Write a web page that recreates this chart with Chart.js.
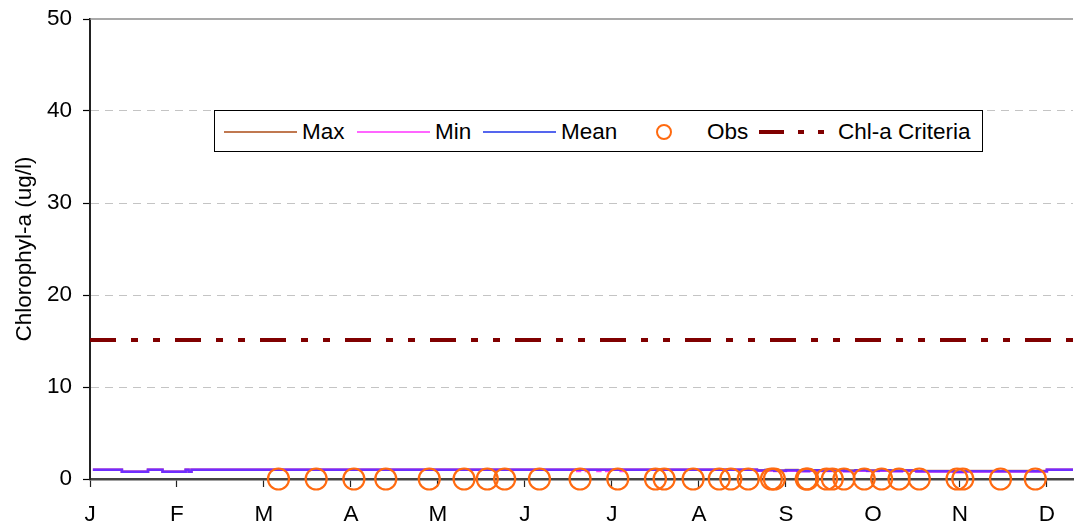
<!DOCTYPE html>
<html><head><meta charset="utf-8">
<script src="https://cdn.jsdelivr.net/npm/chart.js@4.4.1/dist/chart.umd.min.js"></script>
<style>
html,body{margin:0;padding:0;background:#fff;}
#wrap{position:relative;width:1077px;height:527px;font-family:"Liberation Sans",Arial,sans-serif;}
#legend{position:absolute;left:214px;top:110px;width:767px;height:40px;border:1.5px solid #000;background:#fff;}
.sw{position:absolute;top:19.5px;height:2px;width:73px;}
.tx{position:absolute;top:21px;transform:translateY(-50%);font-size:22.5px;line-height:1;color:#000;white-space:nowrap;}
.ob{position:absolute;left:441px;top:13px;width:12px;height:12px;border:2.5px solid #ff6a10;border-radius:50%;}
svg.cr{position:absolute;left:544px;top:14px;}
</style></head>
<body><div id="wrap"><canvas id="c" width="1077" height="527"></canvas>
<div id="legend">
  <div class="sw" style="left:9px;background:#c07850"></div><span class="tx" style="left:87px">Max</span>
  <div class="sw" style="left:142px;background:#ff66ff"></div><span class="tx" style="left:220px">Min</span>
  <div class="sw" style="left:268px;background:#5566ee"></div><span class="tx" style="left:346px">Mean</span>
  <div class="ob"></div><span class="tx" style="left:492px">Obs</span>
  <svg class="cr" width="70" height="14"><line x1="0" y1="7" x2="70" y2="7" stroke="#800000" stroke-width="4" stroke-dasharray="25 14 6 14 6 14"/></svg>
  <span class="tx" style="left:623px">Chl-a Criteria</span>
</div></div>
<script>
const monthLabels = ['J','F','M','A','M','J','J','A','S','O','N','D'];
const yTickValues = [0, 10, 20, 30, 40, 50];

const lineDays = [1, 11, 20, 25, 33, 34, 35,
  166, 168, 169, 171, 172, 175, 176, 178, 179, 183, 184,
  230, 233, 236, 240, 244, 248, 252, 256, 260, 264, 268, 272, 276, 280,
  285, 298, 301, 330, 339];
const maxVals = [1.0, 0.8, 1.0, 0.8, 1.0, 0.8, 1.0,
  1, 1, 1, 1, 1, 1, 1, 1, 1, 1, 1,
  0.95, 0.98, 0.93, 0.97, 0.92, 0.96, 0.93, 0.97, 0.92, 0.96, 0.93, 0.96, 0.92, 0.95,
  0.86, 0.8, 0.86, 1.0, 1.0];
const minVals = [1.0, 0.8, 1.0, 0.8, 1.0, 0.8, 1.0,
  1, 0.88, 1, 0.88, 1, 0.88, 1, 0.88, 1, 0.88, 1,
  0.9, 0.92, 0.86, 0.9, 0.84, 0.9, 0.86, 0.9, 0.84, 0.9, 0.86, 0.9, 0.84, 0.9,
  0.82, 0.74, 0.82, 1.0, 1.0];
const meanVals = [1.0, 0.8, 1.0, 0.8, 1.0, 0.8, 1.0,
  1, 1, 1, 1, 1, 1, 1, 1, 1, 1, 1,
  0.93, 0.97, 0.9, 0.96, 0.88, 0.95, 0.9, 0.96, 0.88, 0.94, 0.9, 0.95, 0.88, 0.93,
  0.85, 0.78, 0.85, 1.0, 1.0];

const obsDays = [65, 78, 91, 102, 117, 129, 137, 143, 155, 169, 182, 195, 198, 208,
  217, 221, 227, 235, 236, 247, 247.5, 254, 256, 260, 267, 273, 279, 286, 299, 301, 314, 326];
const obsVals = [0, 0, 0, 0, 0, 0, 0, 0, 0, 0, 0, 0, 0, 0,
  0, 0, 0, 0, 0, 0, 0, 0, 0, 0, 0, 0, 0, 0, 0, 0, 0, 0];

const critDays = [0, 339];
const critVals = [15.1, 15.1];

const pts = (xs, ys) => xs.map((x, i) => ({x: x, y: ys[i]}));
const FONT = {family: '"Liberation Sans", Arial, sans-serif', size: 22.5};

const topLine = {
  id: 'topLine',
  beforeDatasetsDraw(chart) {
    const y = chart.scales.y.getPixelForValue(50);
    const ctx = chart.ctx;
    ctx.save();
    ctx.strokeStyle = '#8c8c8c';
    ctx.lineWidth = 1.5;
    ctx.beginPath();
    ctx.moveTo(chart.chartArea.left, y);
    ctx.lineTo(chart.chartArea.right, y);
    ctx.stroke();
    ctx.restore();
  }
};

new Chart(document.getElementById('c'), {
  type: 'line',
  data: {
    datasets: [
      {label: 'Obs', data: pts(obsDays, obsVals), showLine: false, pointStyle: 'circle',
       pointRadius: 10.5, pointHoverRadius: 10.5, pointBorderWidth: 2.2, borderColor: '#ff6a10',
       backgroundColor: 'rgba(0,0,0,0)', pointBackgroundColor: 'rgba(0,0,0,0)', clip: false, order: 0},
      {label: 'Mean', data: pts(lineDays, meanVals), borderColor: 'rgba(70,40,255,0.78)', borderWidth: 2.5,
       pointRadius: 0, stepped: 'before', order: 1},
      {label: 'Min', data: pts(lineDays, minVals), borderColor: '#ff44ff', borderWidth: 2.5,
       pointRadius: 0, stepped: 'before', order: 2},
      {label: 'Max', data: pts(lineDays, maxVals), borderColor: '#c07850', borderWidth: 2.5,
       pointRadius: 0, stepped: 'before', order: 3},
      {label: 'Chl-a Criteria', data: pts(critDays, critVals), borderColor: '#800000', borderWidth: 4,
       borderDash: [26, 15, 7, 15, 7, 15], borderCapStyle: 'butt', pointRadius: 0, order: 4}
    ]
  },
  options: {
    responsive: false,
    animation: false,
    devicePixelRatio: 1,
    layout: {autoPadding: false, padding: {top: 19, right: 4, bottom: 0, left: 0}},
    plugins: {legend: {display: false}, tooltip: {enabled: false}},
    scales: {
      x: {
        type: 'linear', min: 0, max: 339,
        afterFit: s => { s.height = 48; s.paddingLeft = 0; s.paddingRight = 0; },
        ticks: {stepSize: 30, includeBounds: false, autoSkip: false, maxRotation: 0,
          color: '#000', font: FONT, padding: 14,
          callback: v => monthLabels[Math.round(v / 30)] ?? ''},
        grid: {drawOnChartArea: false, drawTicks: true, tickLength: 8, tickColor: '#222', tickWidth: 1.2},
        border: {display: true, color: '#444', width: 2.5}
      },
      y: {
        min: 0, max: 50,
        afterFit: s => { s.width = 90; s.paddingTop = 0; s.paddingBottom = 0; },
        afterBuildTicks: s => { s.ticks = yTickValues.map(v => ({value: v})); },
        ticks: {color: '#000', font: FONT, padding: 11},
        grid: {color: c => (c.tick && (c.tick.value === 0 || c.tick.value === 50)) ? 'rgba(0,0,0,0)' : '#c4c4c4',
          lineWidth: 1, tickLength: 7, tickColor: '#000', tickWidth: 1.2},
        border: {display: true, color: '#222', width: 2, dash: [8, 6]},
        title: {display: true, text: 'Chlorophyl-a (ug/l)', color: '#000', font: FONT, padding: {top: 11, bottom: 0}}
      }
    }
  },
  plugins: [topLine]
});
</script>
</body></html>
